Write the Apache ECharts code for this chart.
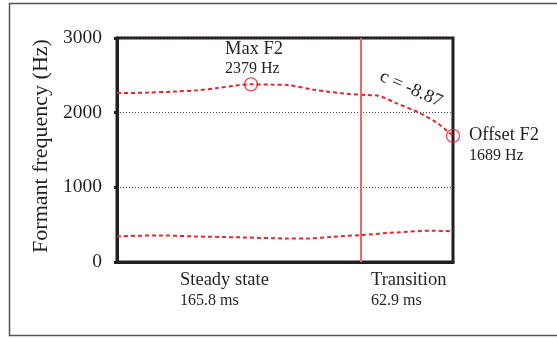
<!DOCTYPE html>
<html>
<head>
<meta charset="utf-8">
<script src="https://cdn.jsdelivr.net/npm/echarts@6/dist/echarts.min.js"></script>
<style>
  html, body { margin: 0; padding: 0; background: #fff; }
  #main { width: 557px; height: 338px; }
</style>
</head>
<body>
<div id="main"></div>
<script>
// F2 / F1 tracks (time in ms, frequency in Hz)
var f2Time = [0, 20, 40, 55, 68, 81, 91.2, 105, 116, 134, 156, 170, 177, 190, 206, 218, 225, 228.7];
var f2Hz = [2262, 2268, 2284, 2300, 2329, 2364, 2379, 2376, 2370, 2307, 2253, 2236, 2230, 2128, 1995, 1861, 1749, 1689];
var f1Time = [0, 29, 52, 86, 115, 130, 145, 165.8, 190, 215, 228.7];
var f1Hz = [343, 356, 343, 329, 316, 316, 335, 361, 396, 419, 410];

var steadyMs = 165.8;   // boundary steady state / transition
var totalMs = 228.7;
var keyPoints = [[91.2, 2379], [228.7, 1689]];  // Max F2, Offset F2
var yTicks = [0, 1000, 2000, 3000];

var SERIF = '"Liberation Serif", "DejaVu Serif", serif';
var INK = '#231f20';
var RED = '#e3262d';

function pairs(xs, ys) {
    var out = [];
    for (var i = 0; i < xs.length; i++) out.push([xs[i], ys[i]]);
    return out;
}

function txt(s, x, y, size, align, extra) {
    var el = {
        type: 'text',
        x: x,
        y: y,
        style: {
            text: s,
            font: size + 'px ' + SERIF,
            fill: INK,
            textAlign: align || 'left',
            textVerticalAlign: 'middle'
        }
    };
    if (extra) for (var k in extra) el[k] = extra[k];
    return el;
}

var myChart = echarts.init(document.getElementById('main'));

var option = {
    animation: false,
    backgroundColor: '#fff',
    grid: {
        left: 117,
        right: 104,
        top: 38,
        bottom: 76,
        show: true,
        borderColor: INK,
        borderWidth: 3,
        containLabel: false,
        outerBoundsMode: 'none'
    },
    xAxis: {
        type: 'value',
        min: 0,
        max: totalMs,
        axisLine: { lineStyle: { color: INK, width: 3 } },
        axisTick: { show: false },
        axisLabel: { show: false },
        splitLine: { show: false }
    },
    yAxis: {
        type: 'value',
        min: yTicks[0],
        max: yTicks[yTicks.length - 1],
        interval: 1000,
        name: 'Formant frequency (Hz)',
        nameLocation: 'middle',
        nameGap: 56,
        nameTextStyle: { fontFamily: SERIF, fontSize: 22, color: INK, padding: [0, 0, 0, 8] },
        axisLine: { show: true, lineStyle: { color: INK, width: 3 } },
        axisTick: { show: true, length: 3, lineStyle: { color: INK, width: 3 } },
        axisLabel: {
            fontFamily: SERIF, fontSize: 19.5, color: INK, margin: 15,
            formatter: function (v) { return String(v); }
        },
        splitLine: { show: true, lineStyle: { color: '#444', width: 1, type: [1, 2] } }
    },
    series: [
        {
            name: 'F2',
            type: 'line',
            data: pairs(f2Time, f2Hz),
            smooth: 0.3,
            symbol: 'none',
            lineStyle: { color: RED, width: 2, type: [4, 3] },
            markLine: {
                silent: true,
                symbol: 'none',
                label: { show: false },
                lineStyle: { color: '#e8666c', width: 2, type: 'solid' },
                data: [{ xAxis: steadyMs }]
            },
            z: 3
        },
        {
            name: 'F1',
            type: 'line',
            data: pairs(f1Time, f1Hz),
            smooth: 0.3,
            symbol: 'none',
            lineStyle: { color: RED, width: 2, type: [4, 3] },
            z: 3
        },
        {
            name: 'key',
            type: 'scatter',
            data: keyPoints,
            symbol: 'circle',
            symbolSize: 13,
            itemStyle: { color: 'rgba(0,0,0,0)', borderColor: RED, borderWidth: 1.3 },
            z: 4
        }
    ],
    graphic: [
        {
            type: 'rect',
            shape: { x: 9.5, y: 3.5, width: 600, height: 332 },
            style: { fill: null, stroke: '#555', lineWidth: 1.5 },
            silent: true
        },
        txt('Max F2', 225, 49, 18.5),
        txt('2379 Hz', 225, 68.5, 16),
        txt('Offset F2', 469, 135.5, 18.5),
        txt('1689 Hz', 469, 156, 16),
        txt('Steady state', 180, 280.5, 18.5),
        txt('165.8 ms', 180, 301, 16),
        txt('Transition', 371, 280.5, 18.5),
        txt('62.9 ms', 371, 301, 16),
        txt('c = -8.87', 411, 89, 18.5, 'center', { rotation: -24 * Math.PI / 180 })
    ]
};

myChart.setOption(option);
</script>
</body>
</html>
